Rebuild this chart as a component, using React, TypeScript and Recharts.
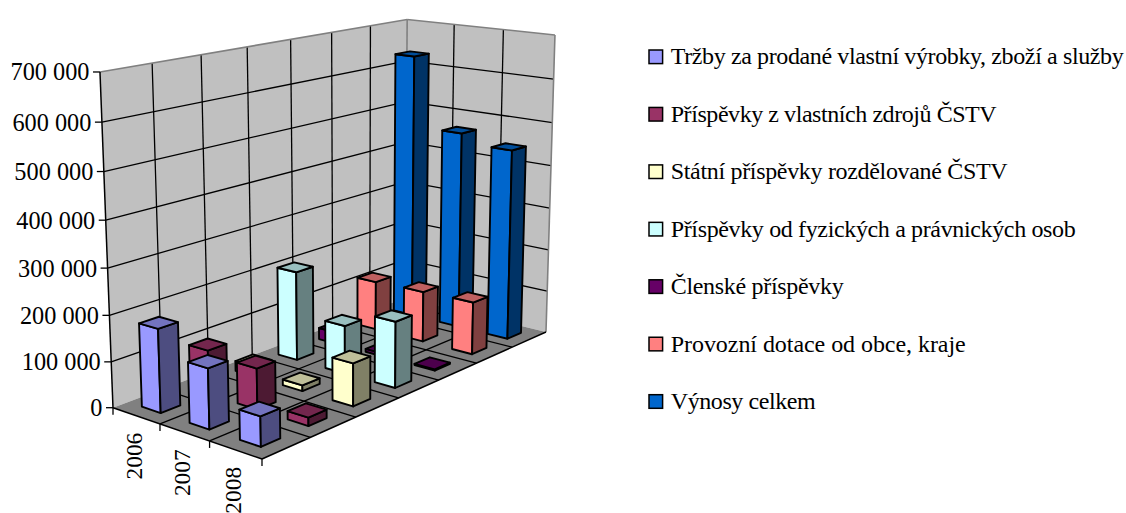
import React from 'react';
import { BarChart, Bar, XAxis, YAxis, Legend } from 'recharts';

const years = ['2006', '2007', '2008'];
const seriesNames = [
    'Tržby za prodané vlastní výrobky, zboží a služby',
    'Příspěvky z vlastních zdrojů ČSTV',
    'Státní příspěvky rozdělované ČSTV',
    'Příspěvky od fyzických a právnických osob',
    'Členské příspěvky',
    'Provozní dotace od obce, kraje',
    'Výnosy celkem',
];
const trzby = [181000, 129000, 63000];
const vlastniZdroje = [97000, 89500, 18000];
const statni = [23000, 13000, 94000];
const fyzicke = [204000, 109000, 148000];
const clenske = [27000, 7000, 3000];
const provozni = [116000, 119000, 122000];
const vynosy = [632000, 467000, 446000];
const seriesValues = [trzby, vlastniZdroje, statni, fyzicke, clenske, provozni, vynosy];
const seriesColors = ['#9999FF', '#993366', '#FFFFCC', '#CCFFFF', '#660066', '#FF8080', '#0066CC'];
const valueTicks = [0, 100000, 200000, 300000, 400000, 500000, 600000, 700000];
const VALUE_MAX = 700000;

const WIDTH = 1126;
const HEIGHT = 513;
const FONT = '"Liberation Serif", serif';
const BAR_FRACTION = 0.4;
// the original text is squeezed by its renderer, so each legend line gets its measured width
const legendTextWidths = [453, 326, 337, 405, 173, 295, 145];

const chartData = years.map((year, i) => {
    const row: Record<string, string | number> = { year };
    seriesNames.forEach((name, s) => {
        row[name] = seriesValues[s][i];
    });
    return row;
});

// camera: floor corners, verticals run to a far vanishing point
const G = -0.0786;
const H = 0.2151;
const VANISH = { x: 355, y: 6647 };
const LIFT = -0.05106;

// u: along the years (0..1), w: into the depth (0..1), h: share of the value axis
const project = (u: number, w: number, h: number) => {
    const x = 128.4 * u + 379.1 * w + 113;
    const y = 15.22 * u - 45.6 * w + 407.7;
    const d = G * u + H * w + 1;
    const k = LIFT * h;
    return { x: (x + k * VANISH.x) / (d + k), y: (y + k * VANISH.y) / (d + k) };
};

const pts = (list: { x: number; y: number }[]) => list.map((p) => `${p.x.toFixed(2)},${p.y.toFixed(2)}`).join(' ');

const darken = (hex: string, f: number) => {
    const n = parseInt(hex.slice(1), 16);
    const c = [(n >> 16) & 255, (n >> 8) & 255, n & 255].map((v) => Math.round(v * f));
    return `rgb(${c[0]},${c[1]},${c[2]})`;
};

const Line3D = ({ a, b, stroke = '#000', w = 1.3 }: any) => (
    <line x1={a.x} y1={a.y} x2={b.x} y2={b.y} stroke={stroke} strokeWidth={w} />
);

const Room = () => {
    const nu = years.length;
    const nw = seriesNames.length;
    const steps = valueTicks.slice(1);
    return (
        <g>
            <polygon
                points={pts([project(0, 0, 0), project(0, 1, 0), project(0, 1, 1), project(0, 0, 1)])}
                fill="#C0C0C0"
            />
            <polygon
                points={pts([project(0, 1, 0), project(1, 1, 0), project(1, 1, 1), project(0, 1, 1)])}
                fill="#C0C0C0"
            />
            <polygon
                points={pts([project(0, 0, 0), project(1, 0, 0), project(1, 1, 0), project(0, 1, 0)])}
                fill="#808080"
            />
            {steps.slice(0, -1).map((v) => {
                const h = v / VALUE_MAX;
                return (
                    <g key={v}>
                        <Line3D a={project(0, 0, h)} b={project(0, 1, h)} />
                        <Line3D a={project(0, 1, h)} b={project(1, 1, h)} />
                    </g>
                );
            })}
            {seriesNames.slice(1).map((_, j) => (
                <g key={j}>
                    <Line3D a={project(0, (j + 1) / nw, 0)} b={project(0, (j + 1) / nw, 1)} />
                    <Line3D a={project(0, (j + 1) / nw, 0)} b={project(1, (j + 1) / nw, 0)} />
                </g>
            ))}
            {years.slice(1).map((_, i) => (
                <g key={i}>
                    <Line3D a={project((i + 1) / nu, 1, 0)} b={project((i + 1) / nu, 1, 1)} />
                    <Line3D a={project((i + 1) / nu, 0, 0)} b={project((i + 1) / nu, 1, 0)} />
                </g>
            ))}
            <Line3D a={project(0, 0, 1)} b={project(0, 1, 1)} stroke="#808080" w={1.6} />
            <Line3D a={project(0, 1, 1)} b={project(1, 1, 1)} stroke="#808080" w={1.6} />
            <Line3D a={project(1, 1, 1)} b={project(1, 1, 0)} stroke="#808080" w={1.6} />
            <Line3D a={project(0, 1, 0)} b={project(0, 1, 1)} stroke="#808080" w={1.6} />
            <Line3D a={project(0, 0, 0)} b={project(0, 0, 1)} w={1.5} />
            <Line3D a={project(0, 0, 0)} b={project(1, 0, 0)} w={1.5} />
            <Line3D a={project(1, 0, 0)} b={project(1, 1, 0)} w={1.5} />
            {[0, 1, 2, 3].map((i) => {
                const p = project(i / nu, 0, 0);
                return <Line3D key={i} a={p} b={{ x: p.x, y: p.y + 7 }} />;
            })}
        </g>
    );
};

const ValueTick = ({ payload }: any) => {
    const p = project(0, 0, payload.value / VALUE_MAX);
    const label = payload.value === 0 ? '0' : `${payload.value / 1000} 000`;
    return (
        <g>
            <line x1={p.x - 7} y1={p.y} x2={p.x} y2={p.y} stroke="#000" strokeWidth={1.3} />
            <text x={p.x - 10.5} y={p.y + 8.5} textAnchor="end" fontFamily={FONT} fontSize={24.3} fill="#000">
                {label}
            </text>
        </g>
    );
};

const YearTick = ({ payload, index }: any) => {
    const p = project((index + 0.5) / years.length, 0, 0);
    const tx = p.x + 6;
    const ty = p.y + 17;
    return (
        <text
            x={tx}
            y={ty}
            transform={`rotate(-90 ${tx} ${ty})`}
            textAnchor="end"
            fontFamily={FONT}
            fontSize={23.4}
            fill="#000"
        >
            {payload.value}
        </text>
    );
};

const Column3D = ({ height, index, background, seriesIndex }: any) => {
    const color = seriesColors[seriesIndex];
    const h = Math.max(height, 0) / (background?.height || HEIGHT);
    const half = BAR_FRACTION / 2;
    const u0 = (index + 0.5 - half) / years.length;
    const u1 = (index + 0.5 + half) / years.length;
    const w0 = (seriesIndex + 0.5 - half) / seriesNames.length;
    const w1 = (seriesIndex + 0.5 + half) / seriesNames.length;
    const common = { stroke: '#000', strokeWidth: 1.9, strokeLinejoin: 'round' as const };
    return (
        <g>
            <polygon
                points={pts([project(u0, w0, 0), project(u1, w0, 0), project(u1, w0, h), project(u0, w0, h)])}
                fill={color}
                {...common}
            />
            <polygon
                points={pts([project(u1, w0, 0), project(u1, w1, 0), project(u1, w1, h), project(u1, w0, h)])}
                fill={darken(color, 0.5)}
                {...common}
            />
            <polygon
                points={pts([project(u0, w0, h), project(u1, w0, h), project(u1, w1, h), project(u0, w1, h)])}
                fill={darken(color, 0.75)}
                {...common}
            />
        </g>
    );
};

const LegendRows = () => (
    <svg
        width={WIDTH}
        height={HEIGHT}
        style={{ position: 'absolute', left: 0, top: -HEIGHT, overflow: 'visible', pointerEvents: 'none' }}
    >
        {seriesNames.map((name, s) => {
            const cy = 56.8 + s * 57.45;
            return (
                <g key={name}>
                    <rect x={649} y={cy - 6.8} width={13.6} height={13.6} fill={seriesColors[s]} stroke="#000" strokeWidth={1.5} />
                    <text
                        x={670.7}
                        y={cy + 7.5}
                        fontFamily={FONT}
                        fontSize={24}
                        fill="#000"
                        textLength={legendTextWidths[s]}
                        lengthAdjust="spacing"
                    >
                        {name}
                    </text>
                </g>
            );
        })}
    </svg>
);

export default function App() {
    return (
        <div style={{ position: 'absolute', left: 0, top: 0, width: WIDTH, height: HEIGHT, overflow: 'hidden' }}>
            <BarChart width={WIDTH} height={HEIGHT} data={chartData} margin={{ top: 0, right: 0, bottom: 0, left: 0 }}>
                <Room />
                <XAxis dataKey="year" height={1} axisLine={false} tickLine={false} tick={YearTick} interval={0} />
                <YAxis
                    width={1}
                    domain={[0, VALUE_MAX]}
                    ticks={valueTicks}
                    axisLine={false}
                    tickLine={false}
                    tick={ValueTick}
                    interval={0}
                />
                <Legend content={<LegendRows />} wrapperStyle={{ left: 0, bottom: 0, width: 0, height: 0 }} />
                {/* painted far to near, the library has no depth sorting */}
                {seriesNames
                    .map((name, s) => ({ name, s }))
                    .reverse()
                    .map(({ name, s }) => (
                        <Bar
                            key={name}
                            dataKey={name}
                            isAnimationActive={false}
                            background={{ fill: 'none' }}
                            shape={(props: any) => <Column3D {...props} seriesIndex={s} />}
                        />
                    ))}
            </BarChart>
        </div>
    );
}
